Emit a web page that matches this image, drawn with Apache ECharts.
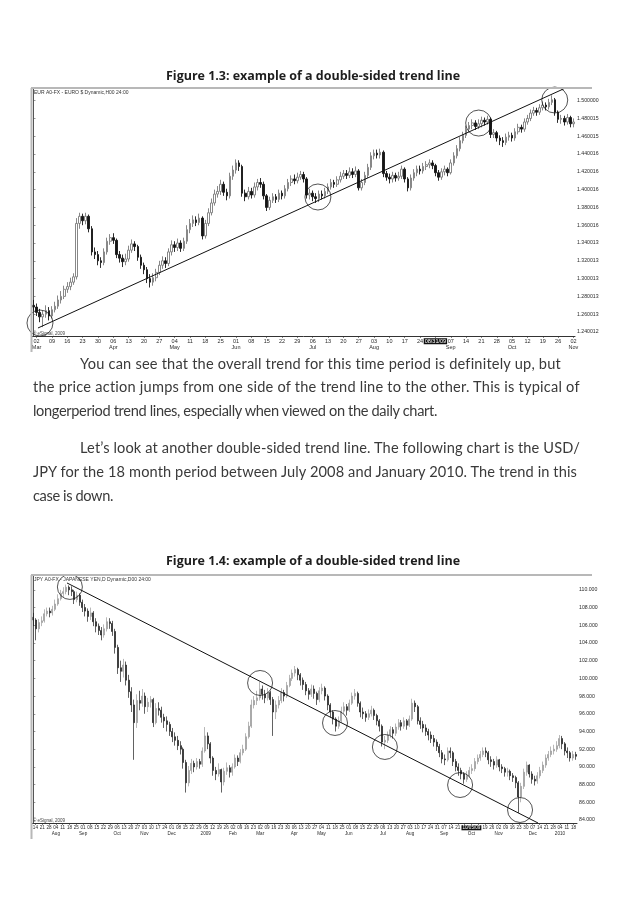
<!DOCTYPE html>
<html>
<head>
<meta charset="utf-8">
<script src="https://cdn.jsdelivr.net/npm/echarts@6/dist/echarts.min.js"></script>
<style>
  html, body { margin:0; padding:0; background:#fff; }
  #page { position:relative; width:623px; height:898px; background:#fff; overflow:hidden; }
  #c { position:absolute; left:0; top:0; width:623px; height:898px; }
  .ln { position:absolute; white-space:nowrap; font-family:"Lato","Open Sans",sans-serif; font-size:14.6px; line-height:20px; color:#3a3a3a; }
  .ttl { position:absolute; white-space:nowrap; font-family:"Open Sans","Lato",sans-serif; font-weight:700; font-size:12.5px; line-height:18px; color:#1e1e1e; }
</style>
</head>
<body>
<div id="page"><div id="c"></div></div>
<script>
// ---------------- DATA ----------------
// Figure 1.3 : EUR/USD daily, 27 Feb 2009 .. 02 Nov 2009
const eurStart = '2009-02-27';
const eurFirstOpen = 1.2700;
const eurClose = [
 1.2680,1.2620,1.2570,1.2600,1.2640,1.2580,1.2650,1.2690,1.2760,1.2800,
 1.2880,1.2910,1.2960,1.3020,1.3620,1.3700,1.3650,1.3700,1.3560,1.3300,
 1.3270,1.3200,1.3180,1.3300,1.3420,1.3460,1.3430,1.3270,1.3230,1.3190,
 1.3220,1.3320,1.3390,1.3360,1.3240,1.3150,1.3100,1.3000,1.2960,1.3010,
 1.3070,1.3150,1.3200,1.3170,1.3300,1.3380,1.3350,1.3400,1.3340,1.3420,
 1.3550,1.3620,1.3660,1.3630,1.3680,1.3480,1.3620,1.3740,1.3850,1.3950,
 1.3980,1.4060,1.3970,1.3930,1.4150,1.4220,1.4300,1.4260,1.3960,1.3920,
 1.3980,1.3940,1.4030,1.4080,1.4060,1.3930,1.3800,1.3880,1.3920,1.3890,
 1.3960,1.3930,1.4010,1.4080,1.4120,1.4100,1.4140,1.4170,1.4120,1.3940,
 1.3960,1.3920,1.3900,1.3950,1.3930,1.3980,1.4030,1.4080,1.4060,1.4110,
 1.4150,1.4180,1.4160,1.4200,1.4170,1.4210,1.4020,1.4080,1.4160,1.4250,
 1.4380,1.4410,1.4390,1.4420,1.4180,1.4140,1.4120,1.4160,1.4130,1.4150,
 1.4230,1.4120,1.4020,1.4130,1.4190,1.4230,1.4210,1.4260,1.4280,1.4300,
 1.4270,1.4190,1.4140,1.4200,1.4230,1.4190,1.4300,1.4380,1.4460,1.4550,
 1.4610,1.4680,1.4720,1.4750,1.4710,1.4740,1.4780,1.4760,1.4790,1.4620,
 1.4640,1.4580,1.4550,1.4530,1.4590,1.4610,1.4580,1.4650,1.4700,1.4680,
 1.4760,1.4800,1.4860,1.4890,1.4870,1.4920,1.4950,1.4930,1.4980,1.5010,
 1.4870,1.4790,1.4800,1.4760,1.4810,1.4740,1.4760];
const eurHigh = [
 1.2760,1.2720,1.2660,1.2640,1.2700,1.2680,1.2690,1.2740,1.2810,1.2860,
 1.2920,1.2960,1.3010,1.3060,1.3680,1.3740,1.3730,1.3740,1.3720,1.3590,
 1.3350,1.3310,1.3240,1.3340,1.3460,1.3500,1.3510,1.3450,1.3310,1.3270,
 1.3280,1.3370,1.3440,1.3420,1.3380,1.3270,1.3180,1.3130,1.3050,1.3060,
 1.3110,1.3200,1.3250,1.3240,1.3340,1.3430,1.3420,1.3450,1.3430,1.3460,
 1.3600,1.3670,1.3710,1.3700,1.3730,1.3700,1.3660,1.3790,1.3900,1.4000,
 1.4040,1.4110,1.4090,1.4010,1.4190,1.4270,1.4340,1.4330,1.4280,1.4000,
 1.4030,1.4020,1.4080,1.4120,1.4130,1.4090,1.3950,1.3920,1.3960,1.3950,
 1.4000,1.3990,1.4050,1.4120,1.4160,1.4170,1.4190,1.4210,1.4200,1.4140,
 1.4010,1.3990,1.3960,1.3990,1.3990,1.4020,1.4070,1.4120,1.4110,1.4150,
 1.4200,1.4220,1.4220,1.4250,1.4240,1.4260,1.4230,1.4120,1.4200,1.4290,
 1.4420,1.4450,1.4450,1.4460,1.4440,1.4210,1.4180,1.4200,1.4190,1.4200,
 1.4270,1.4250,1.4140,1.4170,1.4230,1.4270,1.4270,1.4300,1.4320,1.4340,
 1.4330,1.4290,1.4220,1.4240,1.4270,1.4250,1.4340,1.4420,1.4500,1.4590,
 1.4650,1.4720,1.4760,1.4790,1.4780,1.4790,1.4820,1.4810,1.4830,1.4810,
 1.4680,1.4660,1.4610,1.4590,1.4630,1.4650,1.4640,1.4690,1.4740,1.4730,
 1.4800,1.4840,1.4900,1.4930,1.4920,1.4960,1.4990,1.4980,1.5020,1.5060,
 1.5030,1.4890,1.4840,1.4830,1.4850,1.4830,1.4800];
const eurLow = [
 1.2640,1.2580,1.2510,1.2455,1.2560,1.2530,1.2550,1.2620,1.2660,1.2720,
 1.2770,1.2840,1.2870,1.2930,1.2990,1.3560,1.3600,1.3610,1.3520,1.3260,
 1.3220,1.3150,1.3120,1.3150,1.3270,1.3380,1.3390,1.3230,1.3180,1.3130,
 1.3150,1.3190,1.3290,1.3310,1.3200,1.3110,1.3050,1.2950,1.2900,1.2920,
 1.2970,1.3040,1.3110,1.3120,1.3140,1.3260,1.3300,1.3310,1.3300,1.3310,
 1.3390,1.3510,1.3580,1.3590,1.3600,1.3440,1.3450,1.3590,1.3710,1.3820,
 1.3910,1.3940,1.3930,1.3880,1.3900,1.4110,1.4180,1.4210,1.3920,1.3870,
 1.3890,1.3900,1.3910,1.3990,1.4020,1.3890,1.3760,1.3770,1.3850,1.3850,
 1.3860,1.3890,1.3900,1.3980,1.4040,1.4060,1.4070,1.4110,1.4080,1.3900,
 1.3890,1.3870,1.3850,1.3860,1.3890,1.3900,1.3950,1.4000,1.4020,1.4030,
 1.4080,1.4120,1.4120,1.4130,1.4130,1.4140,1.3990,1.3990,1.4050,1.4130,
 1.4220,1.4340,1.4350,1.4350,1.4140,1.4100,1.4070,1.4080,1.4090,1.4100,
 1.4120,1.4080,1.3980,1.3990,1.4100,1.4150,1.4170,1.4180,1.4220,1.4240,
 1.4230,1.4150,1.4100,1.4110,1.4160,1.4150,1.4170,1.4270,1.4350,1.4430,
 1.4520,1.4580,1.4650,1.4680,1.4670,1.4680,1.4700,1.4720,1.4730,1.4580,
 1.4580,1.4540,1.4500,1.4480,1.4500,1.4550,1.4540,1.4550,1.4620,1.4640,
 1.4650,1.4730,1.4770,1.4830,1.4830,1.4840,1.4890,1.4890,1.4900,1.4950,
 1.4830,1.4750,1.4740,1.4720,1.4730,1.4700,1.4700];
const eurTicks = [1.24,1.26,1.28,1.30,1.32,1.34,1.36,1.38,1.40,1.42,1.44,1.46,1.48,1.50];
const eurTickLabels = ['1.240012','1.260013','1.280013','1.300013','1.320013','1.340013','1.360016',
  '1.380016','1.400016','1.420016','1.440016','1.460015','1.480015','1.500000'];
const eurTrend = [[1.45, 1.2445], [173.4, 1.5142]];          // [bar index, price]
const eurCircles = [[2.1, 1.2501], [92.7, 1.3917], [145.1, 1.4748], [169.9, 1.5007]];
const eurBoxDate = '2009-08-31';
const eurHeader = 'EUR A0-FX - EURO $ Dynamic,H00 24:00';

// Figure 1.4 : USD/JPY, one bar per two trading days, 10 Jul 2008 .. 21 Jan 2010
const jpyStart = '2008-07-10';
const jpyFirstOpen = 106.9;
const jpyClose = [
 106.6,105.6,106.3,106.5,107.3,107.6,107.4,107.8,108.4,109.0,
 109.6,109.8,110.3,110.0,109.8,108.9,109.4,108.6,108.0,107.6,
 107.0,107.4,106.4,105.9,105.4,104.9,105.6,106.4,106.2,105.3,
 103.5,101.2,100.8,101.5,99.8,98.5,97.0,95.0,97.5,97.2,
 98.0,96.8,97.3,97.6,95.0,96.6,96.4,95.6,95.2,94.8,
 94.0,93.4,93.0,92.4,92.0,90.5,88.2,89.6,90.4,90.0,
 90.6,90.3,91.8,93.5,92.6,91.0,89.6,89.2,89.7,88.3,
 89.5,89.9,89.4,90.0,91.0,90.6,91.6,92.0,93.4,94.6,
 97.0,97.5,97.8,98.8,98.2,97.8,98.4,97.6,96.2,97.0,
 97.5,98.4,98.0,99.2,100.0,100.6,101.0,100.4,99.8,99.3,
 98.6,98.2,98.8,98.3,97.6,98.6,98.9,98.0,97.0,96.2,
 95.4,94.6,95.2,96.3,96.8,96.4,97.2,98.0,98.3,97.2,
 96.2,96.0,95.6,96.0,96.4,95.8,95.2,94.6,92.8,93.0,
 93.6,94.2,93.8,94.5,95.0,94.6,95.2,94.7,95.4,97.2,
 96.8,95.2,94.8,94.4,94.0,93.6,93.2,92.8,92.3,91.6,
 90.9,90.8,91.8,91.6,90.6,90.0,89.6,89.2,88.6,89.0,
 89.6,89.8,90.6,91.0,91.4,91.8,91.6,90.8,90.6,90.2,
 90.8,90.0,89.8,89.4,89.5,89.0,88.8,88.2,86.6,87.8,
 89.4,90.2,89.2,88.6,88.4,89.0,89.6,90.2,91.0,91.4,
 91.8,92.0,92.4,93.2,92.6,91.8,91.6,91.0,91.4,91.2];
const jpyHigh = [
 107.4,106.8,106.7,107.0,107.8,108.0,108.0,108.2,108.9,109.5,
 110.0,110.3,110.6,110.5,110.4,110.0,109.8,109.6,108.9,108.4,
 107.9,108.0,107.6,106.8,106.2,105.8,106.1,106.9,106.8,106.5,
 105.6,103.8,102.0,102.2,101.9,100.4,99.0,97.6,98.2,98.6,
 98.8,98.4,97.8,98.0,97.8,97.2,97.3,96.8,96.0,95.7,
 95.1,94.4,93.9,93.5,92.9,92.2,90.8,90.1,90.9,90.7,
 91.0,90.9,92.2,94.5,93.9,92.8,91.2,90.0,90.4,89.8,
 89.9,90.5,90.2,90.4,91.4,91.3,92.0,92.5,93.8,95.1,
 97.6,98.0,98.6,99.6,99.2,98.7,98.9,98.6,97.9,97.5,
 98.0,98.9,98.7,99.6,100.4,101.0,101.4,101.2,100.6,100.1,
 99.6,98.9,99.3,99.2,98.5,99.0,99.4,99.1,98.2,97.2,
 96.4,95.6,95.7,96.8,97.3,97.1,97.6,98.4,98.8,98.5,
 97.4,96.7,96.3,96.5,96.9,96.6,96.0,95.4,94.8,93.5,
 94.0,94.6,94.5,94.9,95.4,95.3,95.6,95.4,95.8,97.7,
 97.5,97.0,95.6,95.2,94.8,94.3,94.0,93.6,93.1,92.6,
 91.9,91.4,92.2,92.2,91.8,90.9,90.4,89.9,89.4,89.5,
 90.0,90.3,91.0,91.4,91.8,92.2,92.2,91.8,91.2,90.9,
 91.2,90.9,90.3,90.0,89.9,89.7,89.3,89.0,88.4,88.2,
 89.8,90.6,90.3,89.5,89.0,89.4,90.0,90.6,91.4,91.8,
 92.3,92.5,92.9,93.6,93.5,92.8,92.2,91.8,91.8,91.7];
const jpyLow = [
 105.9,104.3,105.2,105.9,106.3,107.0,106.9,107.1,107.6,108.2,
 108.8,109.2,109.5,109.4,109.3,108.4,108.6,108.2,107.5,107.0,
 106.4,106.6,105.9,105.2,104.9,104.3,104.6,105.3,105.6,104.8,
 102.8,100.5,99.6,100.1,99.2,97.8,96.2,90.8,94.4,96.4,
 96.8,96.0,96.2,96.7,94.5,94.8,95.8,95.0,94.4,94.0,
 93.5,92.8,92.4,91.9,91.4,89.8,87.1,87.8,89.2,89.4,
 89.7,89.8,90.0,91.6,92.0,90.4,89.0,88.5,88.9,87.1,
 87.9,89.1,88.8,89.0,89.8,90.1,90.4,91.3,91.8,93.2,
 94.4,96.6,97.0,97.5,97.6,97.2,97.5,97.0,93.5,95.4,
 96.6,97.2,97.4,97.8,99.0,99.7,100.2,99.8,99.2,98.7,
 98.1,97.6,97.9,97.7,97.0,97.3,98.2,97.5,96.4,95.6,
 94.8,94.0,94.3,95.0,96.0,95.8,96.2,97.0,97.6,96.8,
 95.6,95.4,95.1,95.3,95.7,95.3,94.7,94.0,92.3,92.0,
 92.7,93.3,93.2,93.5,94.2,94.1,94.3,94.2,94.5,95.2,
 96.2,94.8,94.3,93.9,93.5,93.0,92.7,92.3,91.8,91.1,
 90.4,90.2,90.6,91.0,90.1,89.5,89.0,88.6,88.1,88.3,
 88.8,89.2,89.5,90.3,90.7,91.1,91.1,90.3,90.0,89.7,
 89.9,89.5,89.3,88.9,88.9,88.5,88.3,87.6,84.8,86.0,
 87.5,89.0,88.8,88.1,87.9,88.1,88.7,89.3,89.9,90.7,
 91.1,91.4,91.7,92.1,92.0,91.3,91.0,90.6,90.7,90.8];
const jpyTicks = [84,86,88,90,92,94,96,98,100,102,104,106,108,110];
const jpyTickLabels = ['84.000','86.000','88.000','90.000','92.000','94.000','96.000','98.000',
  '100.000','102.000','104.000','106.000','108.000','110.000'];
const jpyTrend = [[12.34, 110.78], [185.2, 83.66]];
const jpyCircles = [[13.4, 110.33], [83.2, 99.48], [110.7, 94.96], [129.0, 92.25], [156.6, 87.95], [178.6, 85.13]];
const jpyBoxDate = '2009-10-05';
const jpyHeader = 'JPY A0-FX - JAPANESE YEN,D Dynamic,D00 24:00';
const copyrightText = '\u00a9 eSignal, 2009';

// Page text
const figureTitles = ['Figure 1.3: example of a double-sided trend line',
                      'Figure 1.4: example of a double-sided trend line'];
const bodyLines = [
 'You can see that the overall trend for this time period is definitely up, but',
 'the price action jumps from one side of the trend line to the other. This is typical of',
 'longerperiod trend lines, especially when viewed on the daily chart.',
 'Let\u2019s look at another double-sided trend line. The following chart is the USD/',
 'JPY for the 18 month period between July 2008 and January 2010. The trend in this',
 'case is down.'];

// ---------------- LAYOUT (positions only) ----------------
const titleLayout = [{cx:313, cy:76, w:294}, {cx:313, cy:561, w:294}];
const bodyLayout = [
 {x:80, cy:364, w:481}, {x:33, cy:387, w:547}, {x:33, cy:411, w:404},
 {x:80, cy:448, w:500}, {x:33, cy:472, w:544}, {x:33, cy:496, w:80}];

const page = document.getElementById('page');
function addLine(cls, txt, x, cy, w, centered) {
  const el = document.createElement('div');
  el.className = cls; el.textContent = txt;
  page.appendChild(el);
  const r = el.getBoundingClientRect();
  const n = txt.length;
  el.style.letterSpacing = ((w - r.width) / n) + 'px';
  const left = centered ? (x - w / 2) : x;
  el.style.left = left + 'px';
  el.style.top = (cy - el.offsetHeight / 2) + 'px';
}
figureTitles.forEach((t, k) => addLine('ttl', t, titleLayout[k].cx, titleLayout[k].cy, titleLayout[k].w, true));
bodyLines.forEach((t, k) => addLine('ln', t, bodyLayout[k].x, bodyLayout[k].cy, bodyLayout[k].w, false));

// ---------------- BUILD ----------------
const MONTHS = ['Jan','Feb','Mar','Apr','May','Jun','Jul','Aug','Sep','Oct','Nov','Dec'];
function weekdays(start, n) {
  const out = []; const d = new Date(start + 'T00:00:00Z');
  while (out.length < n) {
    const wd = d.getUTCDay();
    if (wd !== 0 && wd !== 6) out.push(new Date(d.getTime()));
    d.setUTCDate(d.getUTCDate() + 1);
  }
  return out;
}
const iso = d => d.toISOString().slice(0, 10);
function ohlc(firstOpen, close, high, low) {
  return close.map((c, i) => {
    const o = i === 0 ? firstOpen : close[i - 1];
    return [o, c, Math.min(low[i], o, c), Math.max(high[i], o, c)];
  });
}

const eurDays = weekdays(eurStart, eurClose.length);
const eurCats = eurDays.map(iso);
const eurLabelFlag = eurDays.map(d => d.getUTCDay() === 1);

// each JPY bar spans two trading days (day k belongs to bar floor(k/2));
// Monday ticks are placed at the exact day position on a value axis laid over the bars
const jpyDays = weekdays(jpyStart, jpyClose.length * 2);
const jpyCats = [];
for (let j = 0; j < jpyClose.length; j++) jpyCats.push(iso(jpyDays[2 * j]));
const jpyMonPos = [], jpyMonDate = [];
jpyDays.forEach((d, k) => {
  if (d.getUTCDay() === 1) { jpyMonPos.push(k / 2 - 0.25); jpyMonDate.push(iso(d)); }
});
const jpyHidden = ['2009-10-12'];

function dateLabel(value, boxDate, hidden, yearForJan) {
  const d = new Date(value + 'T00:00:00Z');
  const day = d.getUTCDate();
  const dd = String(day).padStart(2, '0');
  const mm = String(d.getUTCMonth() + 1).padStart(2, '0');
  const yy = String(d.getUTCFullYear()).slice(2);
  let top;
  if (value === boxDate) top = '{box|' + mm + '/' + dd + '/' + yy + '}';
  else if (hidden.indexOf(value) >= 0) top = '{d| }';
  else top = '{d|' + dd + '}';
  if (day <= 7) {
    const m = (yearForJan && d.getUTCMonth() === 0) ? String(d.getUTCFullYear()) : MONTHS[d.getUTCMonth()];
    return top + '\n{m|' + m + '}';
  }
  return top;
}
function richStyles(fs) {
  const f = 'Liberation Sans';
  const base = {fontSize: fs, lineHeight: fs + 1, color: '#2a2a2a', fontFamily: f};
  return {
    d: base, m: base,
    box: {fontSize: fs, lineHeight: fs + 1, color: '#fff', backgroundColor: '#111', padding: [0, 1], fontFamily: f}
  };
}

function nearestLabel(v, ticks, labels) {
  let best = 0;
  for (let k = 1; k < ticks.length; k++) if (Math.abs(ticks[k] - v) < Math.abs(ticks[best] - v)) best = k;
  return labels[best];
}

// price scale ranges so that tick rows land where the reference has them
const eurMin = 1.2355, eurMax = 1.5142;
const jpyMin = 83.66, jpyMax = 111.68;

function catAxis(grid, data, flags, boxDate, hidden, yearForJan, fs, showLabels) {
  return {
    type: 'category', gridIndex: grid, data: data, boundaryGap: true, position: 'bottom',
    axisLine: {show: true, lineStyle: {color: '#333', width: 1}},
    axisTick: {show: showLabels, alignWithLabel: true, length: 2, interval: i => flags[i], lineStyle: {color: '#333', width: 0.6}},
    axisLabel: {
      show: showLabels, margin: 2, interval: i => flags[i], hideOverlap: false,
      formatter: v => dateLabel(v, boxDate, hidden, yearForJan), rich: richStyles(fs)
    },
    splitLine: {show: false}
  };
}
function valAxis(grid, min, max, ticks, labels) {
  return {
    type: 'value', gridIndex: grid, position: 'right', min: min, max: max, scale: true,
    axisLine: {show: true, lineStyle: {color: '#555', width: 1}},
    axisTick: {show: true, length: 2, customValues: ticks, lineStyle: {color: '#555', width: 0.6}},
    axisLabel: {show: true, margin: 2, customValues: ticks, fontSize: 5.2, color: '#2a2a2a', fontFamily: 'Liberation Sans',
      formatter: v => nearestLabel(v, ticks, labels)},
    splitLine: {show: false}
  };
}

const chart = echarts.init(document.getElementById('c'), null, {renderer: 'canvas', width: 623, height: 898});
const gridBoxes = [{left: 32, top: 88, width: 543, height: 248}, {left: 32, top: 575, width: 545, height: 248}];

const frameGraphics = [];
gridBoxes.forEach(g => {
  frameGraphics.push({type: 'line', silent: true, z: 10,
    shape: {x1: 31, y1: g.top, x2: 592, y2: g.top}, style: {stroke: '#b8b8b8', lineWidth: 2}});
  frameGraphics.push({type: 'line', silent: true, z: 10,
    shape: {x1: 31.5, y1: g.top, x2: 31.5, y2: g.top + g.height + 16}, style: {stroke: '#b8b8b8', lineWidth: 2}});
});
const smallTexts = [
  {type: 'text', left: 34, top: 90, silent: true, style: {text: eurHeader, fontSize: 5, fill: '#333', fontFamily: 'Liberation Sans'}},
  {type: 'text', left: 34, top: 577, silent: true, style: {text: jpyHeader, fontSize: 5, fill: '#333', fontFamily: 'Liberation Sans'}},
  {type: 'text', left: 33, top: 331, silent: true, style: {text: copyrightText, fontSize: 4.5, fill: '#444', fontFamily: 'Liberation Sans'}},
  {type: 'text', left: 33, top: 818, silent: true, style: {text: copyrightText, fontSize: 4.5, fill: '#444', fontFamily: 'Liberation Sans'}}
];

const boxLabel = txt => ({
  show: true, position: 'end', distance: 1, formatter: txt, fontSize: 5.2, color: '#fff',
  backgroundColor: '#111', padding: [1, 1], fontFamily: 'Liberation Sans'
});

const option = {
  animation: false,
  backgroundColor: '#fff',
  grid: gridBoxes,
  xAxis: [
    catAxis(0, eurCats, eurLabelFlag, eurBoxDate, [], false, 5.5, true),
    {type: 'value', gridIndex: 0, min: -0.5, max: eurCats.length - 0.5, show: false},
    catAxis(1, jpyCats, jpyCats.map(() => false), jpyBoxDate, jpyHidden, true, 4.6, false),
    {
      type: 'value', gridIndex: 1, min: -0.5, max: jpyCats.length - 0.5, show: true, position: 'bottom',
      axisLine: {show: false}, splitLine: {show: false},
      axisTick: {show: true, length: 2, customValues: jpyMonPos, lineStyle: {color: '#333', width: 0.6}},
      axisLabel: {show: true, margin: 2, customValues: jpyMonPos, hideOverlap: false,
        formatter: v => dateLabel(nearestLabel(v, jpyMonPos, jpyMonDate), jpyBoxDate, jpyHidden, true),
        rich: richStyles(4.6)}
    }
  ],
  yAxis: [
    valAxis(0, eurMin, eurMax, eurTicks, eurTickLabels),
    valAxis(1, jpyMin, jpyMax, jpyTicks, jpyTickLabels)
  ],
  graphic: frameGraphics.concat(smallTexts),
  series: [
    {
      type: 'candlestick', xAxisIndex: 0, yAxisIndex: 0, barWidth: 2.1,
      data: ohlc(eurFirstOpen, eurClose, eurHigh, eurLow),
      itemStyle: {color: '#ffffff', color0: '#151515', borderColor: '#7a7a7a', borderColor0: '#151515', borderWidth: 0.9},
      markLine: {silent: true, symbol: 'none', lineStyle: {opacity: 0},
        data: [{yAxis: 1.50, label: boxLabel('1.500000')}]}
    },
    {type: 'line', xAxisIndex: 1, yAxisIndex: 0, data: eurTrend, symbol: 'none', silent: true,
      lineStyle: {color: '#111', width: 1}},
    {type: 'scatter', xAxisIndex: 1, yAxisIndex: 0, data: eurCircles, symbol: 'circle', symbolSize: 26, silent: true,
      itemStyle: {color: 'rgba(0,0,0,0)', borderColor: '#111', borderWidth: 0.9}},
    {
      type: 'candlestick', xAxisIndex: 2, yAxisIndex: 1, barWidth: 1.5,
      data: ohlc(jpyFirstOpen, jpyClose, jpyHigh, jpyLow),
      itemStyle: {color: '#a0a0a0', color0: '#1e1e1e', borderColor: '#9a9a9a', borderColor0: '#1e1e1e', borderWidth: 0.7},
      markLine: {silent: true, symbol: 'none', lineStyle: {opacity: 0},
        data: [
          {yAxis: 110.9, label: boxLabel('110.900')},
          {yAxis: jpyClose[jpyClose.length - 1], label: boxLabel(jpyClose[jpyClose.length - 1].toFixed(3))}
        ]}
    },
    {type: 'line', xAxisIndex: 3, yAxisIndex: 1, data: jpyTrend, symbol: 'none', silent: true,
      lineStyle: {color: '#111', width: 1}},
    {type: 'scatter', xAxisIndex: 3, yAxisIndex: 1, data: jpyCircles, symbol: 'circle', symbolSize: 25, silent: true,
      itemStyle: {color: 'rgba(0,0,0,0)', borderColor: '#111', borderWidth: 0.9}}
  ]
};
chart.setOption(option);
</script>
</body>
</html>
